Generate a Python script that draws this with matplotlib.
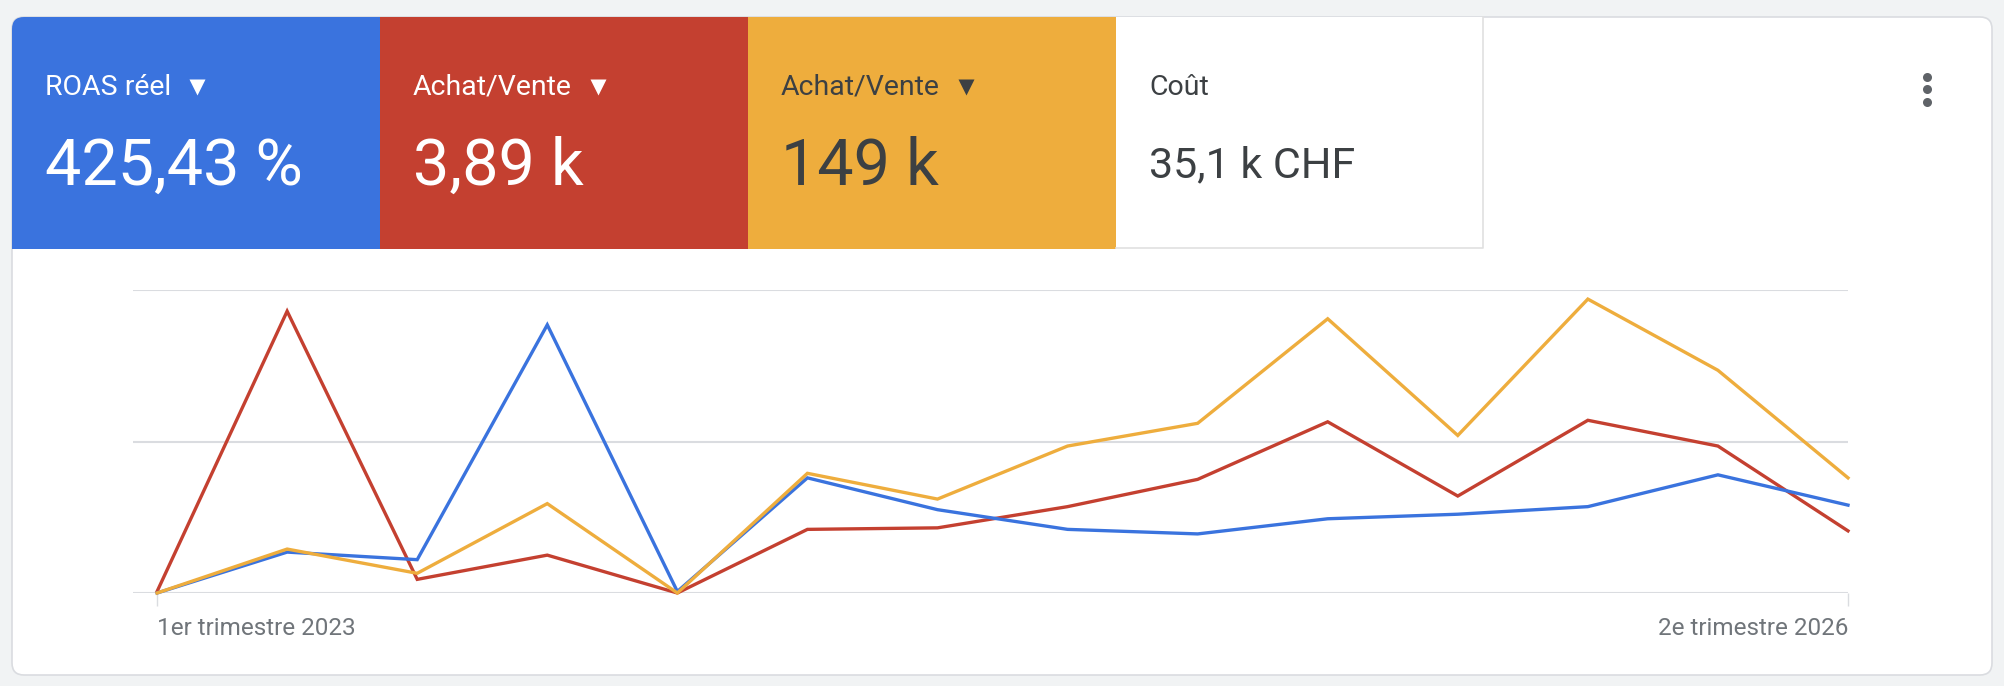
import matplotlib
matplotlib.use("Agg")
import matplotlib.pyplot as plt
from matplotlib.patches import FancyBboxPatch, Rectangle
from matplotlib.lines import Line2D

# Données (échelle normalisée : lignes de grille à 0, 1, 2)
trimestres = ["1er trimestre 2023", "2e trimestre 2023", "3e trimestre 2023", "4e trimestre 2023",
              "1er trimestre 2024", "2e trimestre 2024", "3e trimestre 2024", "4e trimestre 2024",
              "1er trimestre 2025", "2e trimestre 2025", "3e trimestre 2025", "4e trimestre 2025",
              "1er trimestre 2026", "2e trimestre 2026"]
roas = [0.0, 0.27, 0.22, 1.77, 0.01, 0.76, 0.55, 0.42, 0.39, 0.49, 0.52, 0.57, 0.78, 0.58]
achat_vente_1 = [0.01, 1.86, 0.09, 0.25, 0.0, 0.42, 0.43, 0.57, 0.75, 1.13, 0.64, 1.14, 0.97, 0.41]
achat_vente_2 = [0.0, 0.29, 0.13, 0.59, 0.0, 0.79, 0.62, 0.97, 1.12, 1.81, 1.04, 1.94, 1.47, 0.76]

tuiles_titres = ["ROAS réel", "Achat/Vente", "Achat/Vente", "Coût"]
tuiles_valeurs = ["425,43 %", "3,89 k", "149 k", "35,1 k CHF"]

BLEU = "#3a73de"
ROUGE = "#c44030"
JAUNE = "#eead3d"
GRIS_TXT = "#3c4043"

W, H = 2004, 686
plt.rcParams['font.family'] = ['Roboto', 'DejaVu Sans']

fig = plt.figure(figsize=(W / 100, H / 100), dpi=100, facecolor="#f1f3f4")

# fond en pixels
bg = fig.add_axes([0, 0, 1, 1])
bg.set_xlim(0, W)
bg.set_ylim(H, 0)
bg.axis('off')

carte = FancyBboxPatch((12, 17), 1980, 658, boxstyle="round,pad=0,rounding_size=12",
                       facecolor="white", edgecolor="#dadce0", linewidth=1.2)
bg.add_patch(carte)

couleurs_tuiles = [BLEU, ROUGE, JAUNE, "white"]
couleurs_texte = ["white", "white", GRIS_TXT, GRIS_TXT]
bords = [12, 380, 748, 1116, 1483]
for i in range(4):
    r = Rectangle((bords[i], 17), bords[i + 1] - bords[i], 232, facecolor=couleurs_tuiles[i],
                  edgecolor="none")
    bg.add_patch(r)
    r.set_clip_path(carte)

# bordure de la tuile blanche
bg.plot([1483, 1483, 1116], [17, 248, 248], color="#e0e0e0", lw=1.2)

titres = []
for i in range(4):
    x = bords[i] + 33
    t = bg.text(x, 95, tuiles_titres[i], fontsize=20.5, color=couleurs_texte[i], va='baseline')
    titres.append(t)
    taille = 31 if i == 3 else 46.5
    yb = 177 if i == 3 else 185
    bg.text(x, yb, tuiles_valeurs[i], fontsize=taille, color=couleurs_texte[i], va='baseline')

# petits triangles des menus déroulants
fig.canvas.draw()
inv = bg.transData.inverted()
for i in range(3):
    ext = titres[i].get_window_extent()
    x1 = inv.transform((ext.x1, ext.y0))[0]
    bg.plot([x1 + 26], [87], marker='v', ms=11, color=couleurs_texte[i], mec='none')

# menu trois points
bg.add_line(Line2D([1927, 1927, 1927], [77, 89, 102], marker='o', ms=6.5, ls='none',
                   color="#5f6368", mec='none'))

# graphique
ax = fig.add_axes([133 / W, 1 - 593 / H, (1848 - 133) / W, (593 - 290) / H])
ax.set_facecolor("none")
x = list(range(len(trimestres)))
ax.plot(x, achat_vente_1, color=ROUGE, lw=2.4, clip_on=False, solid_joinstyle='miter')
ax.plot(x, roas, color=BLEU, lw=2.4, clip_on=False, solid_joinstyle='miter')
ax.plot(x, achat_vente_2, color=JAUNE, lw=2.4, clip_on=False, solid_joinstyle='miter')

ax.set_xlim(-0.185, len(trimestres) - 1)
ax.set_ylim(0, 2)
ax.set_yticks([0, 1, 2])
ax.yaxis.grid(True, color="#dadce0", lw=1.5)
ax.set_axisbelow(True)
ax.tick_params(axis='y', length=0, labelleft=False)
for s in ax.spines.values():
    s.set_visible(False)

ax.set_xticks([0, len(trimestres) - 1], [trimestres[0], trimestres[-1]])
ax.tick_params(axis='x', length=9, width=1, color="#dadce0", pad=8,
               labelsize=17.5, labelcolor="#70757a")
for lbl, ha in zip(ax.get_xticklabels(), ['left', 'right']):
    lbl.set_ha(ha)

fig.savefig("out.png", dpi=100, facecolor=fig.get_facecolor())
